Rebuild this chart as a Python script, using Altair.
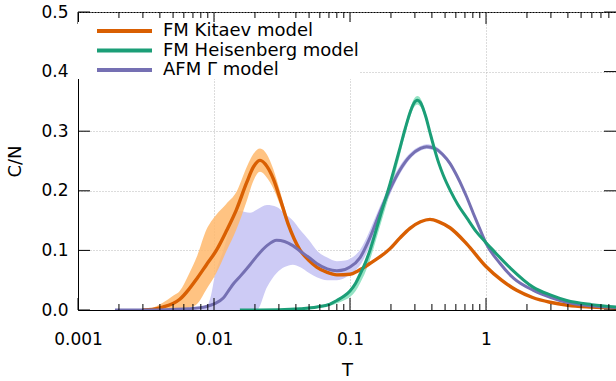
import altair as alt
import pandas as pd

# ---------------- data ----------------
names = ["FM Kitaev model", "FM Heisenberg model", "AFM Γ model"]
line_colors = ["#d95f02", "#1b9e77", "#7570b3"]

# FM Kitaev model
T_kitaev = [0.003, 0.0035, 0.0042, 0.005, 0.0056, 0.0066, 0.0075, 0.0088, 0.0104, 0.0123,
            0.0146, 0.0174, 0.0195, 0.0218, 0.0245, 0.0273, 0.0305, 0.035, 0.0428, 0.05,
            0.0569, 0.068, 0.08, 0.1, 0.115, 0.14, 0.197, 0.233, 0.276, 0.33,
            0.387, 0.45, 0.543, 0.721, 1.0, 1.3, 1.68, 2.2, 2.95, 4.0,
            6.0, 9.03]
C_kitaev = [0.0, 0.001, 0.005, 0.011, 0.018, 0.036, 0.053, 0.076, 0.100, 0.132,
            0.168, 0.214, 0.240, 0.251, 0.241, 0.220, 0.188, 0.145, 0.101, 0.083,
            0.072, 0.063, 0.059, 0.060, 0.066, 0.078, 0.103, 0.121, 0.137, 0.148,
            0.152, 0.148, 0.138, 0.111, 0.073, 0.050, 0.033, 0.021, 0.013, 0.008,
            0.005, 0.003]
lo_kitaev = [0.0, 0.0, 0.0, 0.0, 0.0, 0.004, 0.010, 0.035, 0.062, 0.098,
             0.135, 0.183, 0.217, 0.232, 0.222, 0.204, 0.177, 0.139, 0.098, 0.081,
             0.070, 0.061, 0.057, 0.058, 0.064, 0.076, 0.101, 0.119, 0.135, 0.146,
             0.150, 0.146, 0.136, 0.109, 0.071, 0.048, 0.031, 0.020, 0.012, 0.007,
             0.004, 0.002]
hi_kitaev = [0.0, 0.003, 0.012, 0.024, 0.032, 0.062, 0.090, 0.135, 0.160, 0.178,
             0.198, 0.240, 0.262, 0.271, 0.261, 0.236, 0.200, 0.152, 0.105, 0.085,
             0.074, 0.065, 0.061, 0.062, 0.068, 0.080, 0.105, 0.123, 0.139, 0.150,
             0.154, 0.150, 0.140, 0.113, 0.075, 0.052, 0.035, 0.022, 0.014, 0.009,
             0.006, 0.004]

# FM Heisenberg model
T_heis = [0.0155, 0.03, 0.0429, 0.057, 0.0713, 0.08, 0.09, 0.1, 0.11, 0.1186,
          0.13, 0.14, 0.166, 0.197, 0.233, 0.255, 0.276, 0.295, 0.313, 0.33,
          0.36, 0.387, 0.418, 0.45, 0.485, 0.55, 0.62, 0.72, 0.85, 1.0,
          1.13, 1.5, 2.23, 3.0, 3.92, 6.0, 9.03]
C_heis = [0.0, 0.0005, 0.002, 0.005, 0.010, 0.016, 0.023, 0.032, 0.045, 0.060,
          0.080, 0.100, 0.156, 0.212, 0.272, 0.305, 0.331, 0.347, 0.352, 0.348,
          0.325, 0.298, 0.270, 0.246, 0.226, 0.199, 0.177, 0.155, 0.131, 0.113,
          0.100, 0.071, 0.038, 0.025, 0.016, 0.009, 0.005]
lo_heis = [0.0, 0.0, 0.001, 0.003, 0.007, 0.011, 0.016, 0.022, 0.032, 0.045,
           0.064, 0.084, 0.140, 0.198, 0.260, 0.296, 0.323, 0.340, 0.345, 0.341,
           0.319, 0.293, 0.266, 0.242, 0.223, 0.196, 0.175, 0.153, 0.129, 0.111,
           0.098, 0.069, 0.037, 0.024, 0.015, 0.008, 0.004]
hi_heis = [0.0, 0.001, 0.003, 0.006, 0.012, 0.018, 0.025, 0.035, 0.049, 0.064,
           0.085, 0.105, 0.161, 0.217, 0.278, 0.311, 0.338, 0.354, 0.359, 0.355,
           0.331, 0.303, 0.274, 0.250, 0.229, 0.202, 0.179, 0.157, 0.133, 0.115,
           0.102, 0.073, 0.039, 0.026, 0.017, 0.010, 0.006]

# AFM Gamma model
T_gamma = [0.00187, 0.003, 0.005, 0.0079, 0.0088, 0.0094, 0.0102, 0.0117, 0.0131, 0.0139,
           0.0155, 0.0184, 0.0206, 0.0245, 0.0289, 0.033, 0.038, 0.0428, 0.05, 0.0569,
           0.068, 0.08, 0.092, 0.1, 0.1186, 0.14, 0.166, 0.197, 0.233, 0.276,
           0.33, 0.366, 0.42, 0.48, 0.543, 0.608, 0.68, 0.72, 0.807, 0.9,
           1.0, 1.27, 1.6, 2.23, 3.0, 3.92, 6.0, 9.03]
C_gamma = [0.0, 0.0, 0.001, 0.004, 0.006, 0.008, 0.011, 0.020, 0.036, 0.044,
           0.056, 0.076, 0.090, 0.108, 0.117, 0.115, 0.108, 0.099, 0.088, 0.078,
           0.069, 0.066, 0.068, 0.072, 0.088, 0.121, 0.164, 0.203, 0.235, 0.258,
           0.271, 0.274, 0.271, 0.261, 0.246, 0.226, 0.203, 0.190, 0.162, 0.136,
           0.112, 0.078, 0.053, 0.033, 0.021, 0.013, 0.007, 0.004]
lo_gamma = [0.0, 0.0, 0.0, 0.0, 0.0, 0.0, 0.0, 0.0, 0.0, 0.0,
            0.0, 0.0, 0.0, 0.038, 0.062, 0.072, 0.076, 0.072, 0.062, 0.055,
            0.050, 0.050, 0.054, 0.060, 0.075, 0.108, 0.154, 0.194, 0.228, 0.253,
            0.267, 0.270, 0.267, 0.257, 0.242, 0.223, 0.200, 0.187, 0.160, 0.134,
            0.110, 0.076, 0.051, 0.032, 0.020, 0.012, 0.006, 0.003]
hi_gamma = [0.0, 0.0, 0.001, 0.004, 0.006, 0.020, 0.060, 0.100, 0.140, 0.164,
            0.166, 0.163, 0.168, 0.176, 0.173, 0.162, 0.150, 0.135, 0.117, 0.100,
            0.088, 0.082, 0.083, 0.086, 0.101, 0.134, 0.174, 0.212, 0.242, 0.263,
            0.275, 0.278, 0.275, 0.265, 0.250, 0.229, 0.206, 0.193, 0.164, 0.138,
            0.114, 0.080, 0.055, 0.034, 0.022, 0.014, 0.008, 0.005]

# axis ticks
x_major = [0.001, 0.01, 0.1, 1]
x_minor = [m * d for d in [0.001, 0.01, 0.1, 1] for m in range(2, 10) if m * d < 8.5]
y_major = [0.0, 0.1, 0.2, 0.3, 0.4, 0.5]

# ---------------- chart ----------------
W, H = 538, 298
XMAX = 9.03
FONT = "DejaVu Sans"


def frame(name, T, C, lo, hi):
    return pd.DataFrame({"T": T, "C": C, "lo": lo, "hi": hi, "model": name})


df_k = frame(names[0], T_kitaev, C_kitaev, lo_kitaev, hi_kitaev)
df_h = frame(names[1], T_heis, C_heis, lo_heis, hi_heis)
df_g = frame(names[2], T_gamma, C_gamma, lo_gamma, hi_gamma)

x_scale = alt.Scale(type="log", domain=[0.001, XMAX], nice=False)
y_scale = alt.Scale(domain=[0, 0.5], nice=False, zero=False)

x_axis = alt.Axis(values=x_major, format="~g", title="T", grid=True, gridDash=[1, 2],
                  gridColor="#b8b8b8", ticks=False, labelPadding=21, titlePadding=14,
                  labelFlush=False, domainColor="black",
                  labelFont=FONT, labelFontSize=17, labelColor="black",
                  titleFont=FONT, titleFontSize=18, titleFontWeight="normal", titleColor="black")
y_axis = alt.Axis(values=y_major, format=".1f", title="C/N", grid=True, gridDash=[1, 2],
                  gridColor="#b8b8b8", ticks=False, labelPadding=10, titlePadding=16,
                  domainColor="black",
                  labelFont=FONT, labelFontSize=17, labelColor="black",
                  titleFont=FONT, titleFontSize=18, titleFontWeight="normal", titleColor="black")


def X(f):
    return alt.X(f"{f}:Q", scale=x_scale, axis=x_axis)


def Y(f):
    return alt.Y(f"{f}:Q", scale=y_scale, axis=y_axis)


stroke_scale = alt.Scale(domain=names, range=line_colors)
legend = alt.Legend(title=None, orient="none", legendX=0, legendY=10, padding=0,
                    fillColor="white", symbolType="M-5,0H5", symbolSize=121,
                    symbolStrokeWidth=4, symbolOffset=37.5, labelOffset=29.5,
                    rowPadding=1.5, labelFont=FONT, labelFontSize=18,
                    labelColor="black", labelLimit=400, symbolOpacity=1)


def band(d, color, opacity=1.0):
    return alt.Chart(d).mark_area(interpolate="monotone", clip=True, color=color,
                                  opacity=opacity).encode(x=X("T"), y=Y("lo"), y2="hi")


def line(d, width=3.0):
    return alt.Chart(d).mark_line(interpolate="monotone", clip=True, strokeWidth=width).encode(
        x=X("T"), y=Y("C"),
        stroke=alt.Stroke("model:N", scale=stroke_scale, legend=legend))


tx_major = pd.DataFrame({"T": x_major})
tx_minor = pd.DataFrame({"T": x_minor})
ty_major = pd.DataFrame({"C": y_major})

ticks = [
    alt.Chart(tx_major).mark_rule(color="black").encode(x=X("T"), y=alt.value(H), y2=alt.value(H - 12)),
    alt.Chart(tx_minor).mark_rule(color="black").encode(x=X("T"), y=alt.value(H), y2=alt.value(H - 6)),
    alt.Chart(tx_major).mark_rule(color="black").encode(x=X("T"), y=alt.value(0), y2=alt.value(12)),
    alt.Chart(tx_minor).mark_rule(color="black").encode(x=X("T"), y=alt.value(0), y2=alt.value(6)),
    alt.Chart(ty_major).mark_rule(color="black").encode(y=Y("C"), x=alt.value(0), x2=alt.value(12)),
    alt.Chart(ty_major).mark_rule(color="black").encode(y=Y("C"), x=alt.value(W), x2=alt.value(W - 12)),
]

chart = alt.layer(
    band(df_g, "#cdcbf5"),
    band(df_k, "#ffb86c", 0.85),
    band(df_h, "#95e3c4"),
    line(df_k, 3.4),
    line(df_g, 3.0),
    line(df_h, 3.0),
    *ticks,
).properties(
    width=W, height=H,
    padding={"left": 78, "top": 12, "right": 0, "bottom": 71},
    autosize=alt.AutoSizeParams(type="none"),
).configure(
    font=FONT, background="white"
).configure_view(
    stroke="black", strokeWidth=1
).configure_axis(
    domainWidth=1
)

chart.save("out.html", embed_options={"renderer": "svg", "actions": False})
